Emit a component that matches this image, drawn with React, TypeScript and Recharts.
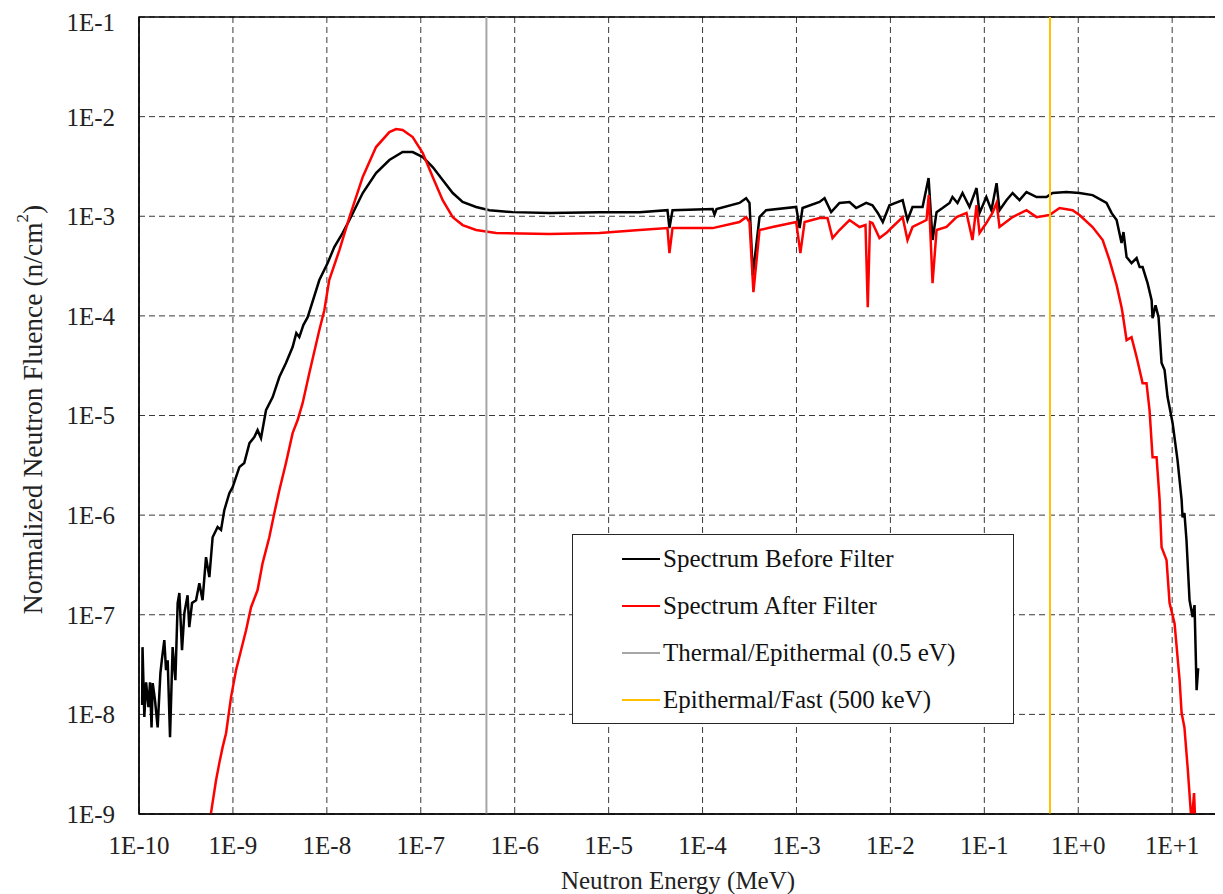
import {
  CartesianGrid,
  Legend,
  Line,
  LineChart,
  ReferenceArea,
  ReferenceLine,
  XAxis,
  YAxis,
} from "recharts";

// neutron energy (MeV) and normalized fluence (n/cm2)
const beforeEnergy = [
  1.08e-10, 1.09e-10, 1.14e-10, 1.19e-10, 1.26e-10, 1.31e-10, 1.36e-10, 1.4e-10,
  1.48e-10, 1.58e-10, 1.69e-10, 1.76e-10, 1.86e-10, 1.94e-10, 2.02e-10, 2.14e-10,
  2.28e-10, 2.44e-10, 2.58e-10, 2.69e-10, 2.87e-10, 3.04e-10, 3.29e-10, 3.43e-10,
  3.67e-10, 4.05e-10, 4.39e-10, 4.75e-10, 5.17e-10, 5.61e-10, 6.08e-10, 6.87e-10,
  7.47e-10, 8.09e-10, 9.16e-10, 9.93e-10, 1.17e-9, 1.32e-9, 1.5e-9, 1.69e-9,
  1.83e-9, 1.99e-9, 2.25e-9, 2.65e-9, 3.12e-9, 3.67e-9, 4.32e-9, 4.73e-9,
  5.09e-9, 5.62e-9, 6.25e-9, 8.32e-9, 1.02e-8, 1.2e-8, 1.47e-8, 1.74e-8,
  2.41e-8, 3.34e-8, 4.63e-8, 6.41e-8, 8.2e-8, 1.05e-7, 1.34e-7, 1.71e-7,
  2.19e-7, 2.79e-7, 3.88e-7, 5.38e-7, 9.53e-7, 2.34e-6, 7.99e-6, 2.13e-5,
  4.23e-5, 4.44e-5, 4.79e-5, 1.28e-4, 1.34e-4, 1.41e-4, 2.47e-4, 2.91e-4,
  3.16e-4, 3.43e-4, 4.04e-4, 4.75e-4, 9.93e-4, 1.08e-3, 1.16e-3, 1.76e-3,
  1.99e-3, 2.34e-3, 2.87e-3, 3.67e-3, 4.32e-3, 5.52e-3, 6.44e-3, 7.34e-3,
  8.3e-3, 9.77e-3, 1.35e-2, 1.52e-2, 1.72e-2, 2.2e-2, 2.55e-2, 2.81e-2,
  3.1e-2, 3.59e-2, 4.26e-2, 4.58e-2, 5.18e-2, 5.86e-2, 6.95e-2, 8.26e-2,
  8.89e-2, 0.105, 0.119, 0.135, 0.145, 0.172, 0.2, 0.237,
  0.281, 0.36, 0.459, 0.532, 0.75, 1.03, 1.42, 2.0,
  2.26, 2.56, 2.89, 3.03, 3.27, 3.69, 4.18, 4.5,
  4.84, 5.47, 6.04, 6.18, 6.65, 7.16, 7.71, 8.3,
  8.93, 10.1, 11.4, 12.6, 12.9, 13.5, 14.2, 15.3,
  16.5, 17.3, 18.2, 18.9,
];
const beforeFluence = [
  1.24e-8, 4.73e-8, 9.4e-9, 2.1e-8, 1.18e-8, 2.1e-8, 7.4e-9, 2.06e-8,
  1.39e-8, 7.4e-9, 2.6e-8, 3.67e-8, 5.56e-8, 2.78e-8, 3.5e-8, 5.9e-9,
  4.73e-8, 2.2e-8, 1.31e-7, 1.65e-7, 4.4e-8, 1.04e-7, 1.57e-7, 7.5e-8,
  1.31e-7, 1.4e-7, 2.07e-7, 1.4e-7, 3.79e-7, 2.39e-7, 6.0e-7, 7.6e-7,
  7.1e-7, 1.12e-6, 1.66e-6, 1.91e-6, 3.03e-6, 3.33e-6, 5.28e-6, 6.07e-6,
  7.13e-6, 5.93e-6, 1.13e-5, 1.53e-5, 2.43e-5, 3.36e-5, 4.86e-5, 6.72e-5,
  6.12e-5, 8.09e-5, 9.7e-5, 2.29e-4, 3.39e-4, 4.91e-4, 6.78e-4, 9.16e-4,
  1.71e-3, 2.71e-3, 3.67e-3, 4.41e-3, 4.41e-3, 3.93e-3, 3.12e-3, 2.31e-3,
  1.71e-3, 1.39e-3, 1.24e-3, 1.15e-3, 1.1e-3, 1.08e-3, 1.1e-3, 1.1e-3,
  1.15e-3, 7.6e-4, 1.15e-3, 1.18e-3, 1.04e-3, 1.18e-3, 1.36e-3, 1.52e-3,
  1.36e-3, 2.57e-4, 9.8e-4, 1.15e-3, 1.24e-3, 7.6e-4, 1.21e-3, 1.39e-3,
  1.52e-3, 1.1e-3, 1.36e-3, 1.39e-3, 1.21e-3, 1.36e-3, 1.29e-3, 1.08e-3,
  8.75e-4, 1.29e-3, 1.45e-3, 9.16e-4, 1.24e-3, 1.24e-3, 2.42e-3, 5.77e-4,
  1.1e-3, 1.21e-3, 1.36e-3, 1.56e-3, 1.36e-3, 1.71e-3, 1.24e-3, 1.92e-3,
  1.08e-3, 1.56e-3, 1.15e-3, 2.15e-3, 1.15e-3, 1.45e-3, 1.71e-3, 1.45e-3,
  1.75e-3, 1.56e-3, 1.56e-3, 1.71e-3, 1.75e-3, 1.71e-3, 1.63e-3, 1.36e-3,
  1.08e-3, 9.16e-4, 5.38e-4, 6.94e-4, 3.89e-4, 3.39e-4, 3.8e-4, 3.09e-4,
  3.09e-4, 2.13e-4, 1.44e-4, 9.5e-5, 1.28e-4, 9.7e-5, 3.36e-5, 2.86e-5,
  1.53e-5, 8.4e-6, 3.56e-6, 1.42e-6, 9.5e-7, 1.05e-6, 5.6e-7, 1.4e-7,
  9.5e-8, 1.25e-7, 1.75e-8, 2.91e-8,
];

const afterEnergy = [
  5.34e-10, 5.84e-10, 6.61e-10, 7.16e-10, 7.77e-10, 8.45e-10, 9.55e-10, 1.08e-9,
  1.22e-9, 1.38e-9, 1.56e-9, 1.83e-9, 2.07e-9, 2.44e-9, 2.76e-9, 3.12e-9,
  3.67e-9, 4.32e-9, 4.89e-9, 5.52e-9, 6.51e-9, 8.32e-9, 9.4e-9, 1.06e-8,
  1.36e-8, 1.74e-8, 2.41e-8, 3.34e-8, 4.63e-8, 5.46e-8, 6.41e-8, 8.2e-8,
  1.05e-7, 1.34e-7, 1.71e-7, 2.19e-7, 2.79e-7, 3.88e-7, 6.34e-7, 2.34e-6,
  7.99e-6, 2.13e-5, 4.23e-5, 4.44e-5, 4.79e-5, 1.28e-4, 2.47e-4, 2.91e-4,
  3.16e-4, 3.48e-4, 4.04e-4, 5.55e-4, 9.93e-4, 1.1e-3, 1.22e-3, 1.76e-3,
  2.14e-3, 2.42e-3, 2.87e-3, 3.67e-3, 4.69e-3, 5.43e-3, 5.74e-3, 6.07e-3,
  6.44e-3, 7.65e-3, 9.02e-3, 1.05e-2, 1.35e-2, 1.52e-2, 1.72e-2, 2.42e-2,
  2.56e-2, 2.81e-2, 3.1e-2, 3.96e-2, 5.06e-2, 6.46e-2, 7.48e-2, 8.26e-2,
  8.89e-2, 0.105, 0.122, 0.135, 0.145, 0.2, 0.281, 0.36,
  0.494, 0.632, 0.869, 1.03, 1.42, 1.82, 2.15, 2.56,
  2.89, 2.96, 3.27, 3.69, 4.18, 4.5, 4.84, 5.33,
  5.74, 6.18, 6.82, 7.35, 7.71, 8.71, 9.38, 10.6,
  12.0, 12.6, 13.5, 14.6, 16.1, 17.1, 17.7,
];
const afterFluence = [
  6.0e-10, 1.02e-9, 2.18e-9, 3.24e-9, 4.69e-9, 6.47e-9, 1.49e-8, 2.78e-8,
  4.4e-8, 7.0e-8, 1.19e-7, 1.77e-7, 3.3e-7, 6.0e-7, 1.05e-6, 1.78e-6,
  3.33e-6, 6.65e-6, 9.0e-6, 1.33e-5, 2.67e-5, 7.2e-5, 1.14e-4, 2.29e-4,
  4.58e-4, 9.8e-4, 2.48e-3, 4.95e-3, 7.0e-3, 7.5e-3, 7.35e-3, 6.24e-3,
  4.31e-3, 2.48e-3, 1.45e-3, 9.8e-4, 8.16e-4, 7.27e-4, 6.78e-4, 6.63e-4,
  6.78e-4, 7.27e-4, 7.6e-4, 4.27e-4, 7.6e-4, 7.6e-4, 8.75e-4, 9.8e-4,
  8.75e-4, 1.73e-4, 7.27e-4, 7.8e-4, 8.75e-4, 4.27e-4, 8.75e-4, 9.6e-4,
  9.6e-4, 6.04e-4, 7.27e-4, 9.16e-4, 7.8e-4, 8.16e-4, 1.22e-4, 8.75e-4,
  8.55e-4, 6.04e-4, 6.78e-4, 7.8e-4, 9.8e-4, 5.77e-4, 7.8e-4, 9.16e-4,
  1.63e-3, 2.13e-4, 7.27e-4, 7.8e-4, 9.8e-4, 1.08e-3, 5.77e-4, 1.29e-3,
  6.78e-4, 8.55e-4, 1.08e-3, 1.36e-3, 7.8e-4, 9.8e-4, 1.15e-3, 9.8e-4,
  1.03e-3, 1.21e-3, 1.15e-3, 1.03e-3, 7.8e-4, 5.77e-4, 3.63e-4, 2.04e-4,
  1.22e-4, 1.07e-4, 5.71e-5, 6.12e-5, 3.86e-5, 2.86e-5, 2.11e-5, 2.11e-5,
  1.13e-5, 3.82e-6, 3.82e-6, 1.42e-6, 4.77e-7, 3.53e-7, 1.31e-7, 8.2e-8,
  2.2e-8, 1.03e-8, 7.4e-9, 2.95e-9, 8.0e-10, 1.62e-9, 7.0e-10,
];

const thermalCut = 5e-7; // 0.5 eV in MeV
const fastCut = 0.5; // 500 keV

const xTicks = [1e-10, 1e-9, 1e-8, 1e-7, 1e-6, 1e-5, 1e-4, 1e-3, 1e-2, 1e-1, 1, 10];
const yTicks = [1e-9, 1e-8, 1e-7, 1e-6, 1e-5, 1e-4, 1e-3, 1e-2, 1e-1];

const legendItems = [
  { label: "Spectrum Before Filter", color: "#000000" },
  { label: "Spectrum After Filter", color: "#ff0000" },
  { label: "Thermal/Epithermal (0.5 eV)", color: "#a6a6a6" },
  { label: "Epithermal/Fast (500 keV)", color: "#ffc000" },
];

const beforeData = beforeEnergy.map((e, i) => ({ e, f: beforeFluence[i] }));
const afterData = afterEnergy.map((e, i) => ({ e, f: afterFluence[i] }));

const FONT = '"Liberation Serif", "Times New Roman", serif';

function sci(v: number) {
  const p = Math.round(Math.log10(v));
  return `1E${p >= 0 ? "+" : "-"}${Math.abs(p)}`;
}

function YTitle(props: any) {
  const { viewBox } = props;
  const cx = viewBox.x + 24;
  const cy = viewBox.y + viewBox.height / 2 - 6;
  return (
    <text
      x={cx}
      y={cy}
      transform={`rotate(-90 ${cx} ${cy})`}
      textAnchor="middle"
      dominantBaseline="central"
      fontFamily={FONT}
      fontSize={27.5}
      fill="#222"
    >
      Normalized Neutron Fluence (n/cm
      <tspan dy={-10} fontSize={17}>
        2
      </tspan>
      <tspan dy={10}>)</tspan>
    </text>
  );
}

function LegendBox() {
  return (
    <div
      style={{
        width: 442,
        height: 190,
        boxSizing: "border-box",
        border: "1.5px solid #262626",
        background: "#fff",
        fontFamily: FONT,
        fontSize: 25,
        color: "#111",
      }}
    >
      {legendItems.map((item) => (
        <div
          key={item.label}
          style={{ display: "flex", alignItems: "center", height: 47 }}
        >
          <span
            style={{
              display: "inline-block",
              width: 38,
              height: 2,
              marginLeft: 49,
              marginRight: 3,
              background: item.color,
            }}
          />
          <span>{item.label}</span>
        </div>
      ))}
    </div>
  );
}

export default function App() {
  return (
    <div style={{ fontFamily: FONT }}>
      <LineChart
        width={1215}
        height={886}
        margin={{ top: 9, right: 6, bottom: 0, left: 0 }}
      >
        <CartesianGrid stroke="#3a3a3a" strokeDasharray="6 4" />
        <XAxis
          dataKey="e"
          type="number"
          scale="log"
          domain={[1e-10, 30]}
          allowDataOverflow
          ticks={xTicks}
          tickFormatter={sci}
          height={80}
          tickLine={false}
          tickSize={0}
          tickMargin={22}
          stroke="#000"
          tick={{ fill: "#222", fontSize: 25, fontFamily: FONT }}
          label={{
            value: "Neutron Energy (MeV)",
            position: "insideBottom",
            offset: 5,
            fill: "#222",
            fontSize: 25,
            fontFamily: FONT,
          }}
        />
        <YAxis
          dataKey="f"
          type="number"
          scale="log"
          domain={[1e-9, 1e-1]}
          allowDataOverflow
          ticks={yTicks}
          tickFormatter={sci}
          width={131}
          tickLine={false}
          tickSize={0}
          tickMargin={24}
          stroke="#000"
          tick={{ fill: "#222", fontSize: 25, fontFamily: FONT }}
          label={<YTitle />}
        />
        <ReferenceArea
          x1={1e-10}
          x2={30}
          y1={1e-9}
          y2={1e-1}
          fill="none"
          stroke="#000"
          strokeWidth={1.5}
        />
        <Line
          data={beforeData}
          dataKey="f"
          name="Spectrum Before Filter"
          type="linear"
          stroke="#000000"
          strokeWidth={2.5}
          dot={false}
          isAnimationActive={false}
        />
        <Line
          data={afterData}
          dataKey="f"
          name="Spectrum After Filter"
          type="linear"
          stroke="#ff0000"
          strokeWidth={2.5}
          dot={false}
          isAnimationActive={false}
        />
        <ReferenceLine x={thermalCut} stroke="#a6a6a6" strokeWidth={2} />
        <ReferenceLine x={fastCut} stroke="#ffc000" strokeWidth={2} />
        <Legend
          layout="vertical"
          align="center"
          verticalAlign="middle"
          content={<LegendBox />}
          wrapperStyle={{ left: 564, top: 526, width: 442 }}
        />
      </LineChart>
    </div>
  );
}
